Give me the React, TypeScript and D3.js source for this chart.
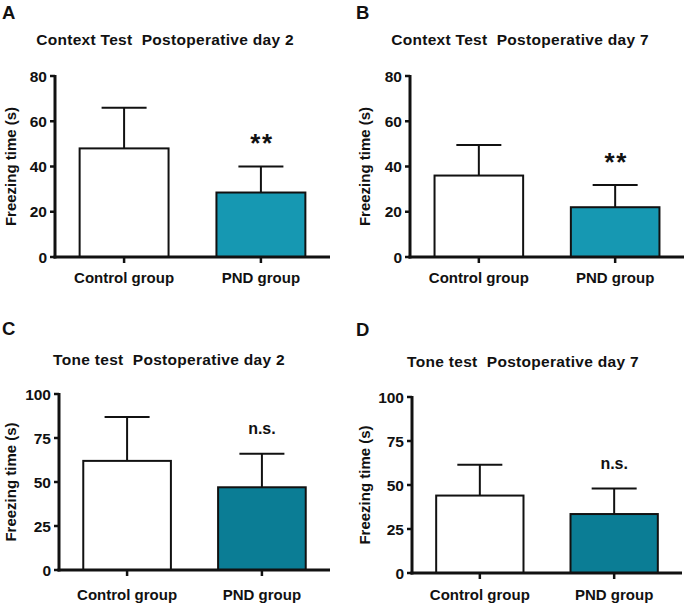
import React from "react";
import * as d3 from "d3";

// Freezing-time results, four panels
const groups = ["Control group", "PND group"];

const contextDay2Means = [48, 28.5];
const contextDay2Errors = [18, 11.5];
const contextDay7Means = [36, 22];
const contextDay7Errors = [13.5, 9.8];
const toneDay2Means = [62, 47];
const toneDay2Errors = [25, 19];
const toneDay7Means = [44, 33.5];
const toneDay7Errors = [17.5, 14.5];

const contextTicks = [0, 20, 40, 60, 80];
const toneTicks = [0, 25, 50, 75, 100];

const panelLetters = ["A", "B", "C", "D"];
const panelTitles = [
  "Context Test  Postoperative day 2",
  "Context Test  Postoperative day 7",
  "Tone test  Postoperative day 2",
  "Tone test  Postoperative day 7",
];
const significance = ["**", "**", "n.s.", "n.s."];

const FONT = "Liberation Sans, Arial, Helvetica, sans-serif";

type PanelProps = {
  letter: string;
  title: string;
  means: number[];
  errors: number[];
  ticks: number[];
  sig: string;
  fill: string;
  // layout
  axisX: number;
  xEnd: number;
  yTop: number;
  yBottom: number;
  letterX: number;
  letterY: number;
  titleX: number;
  titleY: number;
  yLabelX: number;
  xLabelY: number;
};

function Panel(p: PanelProps) {
  const yMax = p.ticks[p.ticks.length - 1];
  const y = d3.scaleLinear().domain([0, yMax]).range([p.yBottom, p.yTop]);
  const x = d3
    .scaleBand<string>()
    .domain(groups)
    .range([p.axisX, p.xEnd])
    .paddingInner(0.35)
    .paddingOuter(0.18);
  const bw = x.bandwidth();
  const capHalf = 22.5;
  const yMid = (p.yTop + p.yBottom) / 2;
  const isStars = p.sig === "**";

  return (
    <g>
      <text x={p.letterX} y={p.letterY} fontFamily={FONT} fontWeight="bold" fontSize={18.5} fill="#111">
        {p.letter}
      </text>
      <text
        x={p.titleX}
        y={p.titleY}
        textAnchor="middle"
        fontFamily={FONT}
        fontWeight="bold"
        fontSize={15.5}
        letterSpacing={0.3}
        style={{ whiteSpace: "pre" }}
        fill="#111"
      >
        {p.title}
      </text>
      <text
        transform={`translate(${p.yLabelX},${yMid}) rotate(-90)`}
        textAnchor="middle"
        dominantBaseline="central"
        fontFamily={FONT}
        fontWeight="bold"
        fontSize={15}
        fill="#111"
      >
        Freezing time (s)
      </text>

      {/* bars with upward error bars */}
      {groups.map((g, i) => {
        const x0 = x(g)!;
        const cx = x0 + bw / 2;
        const top = y(p.means[i]);
        const errTop = y(p.means[i] + p.errors[i]);
        return (
          <g key={g}>
            <line x1={cx} x2={cx} y1={top} y2={errTop} stroke="#111" strokeWidth={2} />
            <line x1={cx - capHalf} x2={cx + capHalf} y1={errTop} y2={errTop} stroke="#111" strokeWidth={2} />
            <rect
              x={x0}
              y={top}
              width={bw}
              height={p.yBottom - top}
              fill={i === 0 ? "#ffffff" : p.fill}
              stroke="#111"
              strokeWidth={2}
            />
            {i === 1 && (
              <text
                x={cx + (isStars ? 1 : 0)}
                y={isStars ? errTop - 28 + 13.5 : errTop - 25 + 5}
                textAnchor="middle"
                fontFamily={FONT}
                fontWeight="bold"
                fontSize={isStars ? 26 : 16}
                letterSpacing={isStars ? 1.5 : 0}
                fill="#111"
              >
                {p.sig}
              </text>
            )}
            {/* x tick */}
            <line x1={cx} x2={cx} y1={p.yBottom} y2={p.yBottom + 6} stroke="#111" strokeWidth={2.5} />
            <text x={cx} y={p.xLabelY} textAnchor="middle" fontFamily={FONT} fontWeight="bold" fontSize={15} fill="#111">
              {g}
            </text>
          </g>
        );
      })}

      {/* y axis */}
      <line x1={p.axisX} x2={p.axisX} y1={p.yTop - 1} y2={p.yBottom + 1.5} stroke="#111" strokeWidth={3} />
      {p.ticks.map((t) => (
        <g key={t}>
          <line x1={p.axisX - 5} x2={p.axisX} y1={y(t)} y2={y(t)} stroke="#111" strokeWidth={2.5} />
          <text
            x={p.axisX - 8}
            y={y(t)}
            textAnchor="end"
            dominantBaseline="central"
            fontFamily={FONT}
            fontWeight="bold"
            fontSize={15.5}
            fill="#111"
          >
            {t}
          </text>
        </g>
      ))}
      {/* x axis */}
      <line x1={p.axisX - 1.5} x2={p.xEnd} y1={p.yBottom} y2={p.yBottom} stroke="#111" strokeWidth={3} />
    </g>
  );
}

export default function App() {
  return (
    <svg
      width={688}
      height={608}
      viewBox="0 0 688 608"
      style={{ position: "absolute", left: 0, top: 0, background: "#fff" }}
    >
      <rect width={688} height={608} fill="#fff" />
      <Panel
        letter={panelLetters[0]}
        title={panelTitles[0]}
        means={contextDay2Means}
        errors={contextDay2Errors}
        ticks={contextTicks}
        sig={significance[0]}
        fill="#1698b2"
        axisX={55}
        xEnd={330}
        yTop={76}
        yBottom={257}
        letterX={2}
        letterY={19}
        titleX={165}
        titleY={45}
        yLabelX={10}
        xLabelY={283}
      />
      <Panel
        letter={panelLetters[1]}
        title={panelTitles[1]}
        means={contextDay7Means}
        errors={contextDay7Errors}
        ticks={contextTicks}
        sig={significance[1]}
        fill="#1698b2"
        axisX={410}
        xEnd={684}
        yTop={76}
        yBottom={257}
        letterX={356}
        letterY={19}
        titleX={520}
        titleY={45}
        yLabelX={364}
        xLabelY={283}
      />
      <Panel
        letter={panelLetters[2]}
        title={panelTitles[2]}
        means={toneDay2Means}
        errors={toneDay2Errors}
        ticks={toneTicks}
        sig={significance[2]}
        fill="#0b7d95"
        axisX={59}
        xEnd={330}
        yTop={394}
        yBottom={570}
        letterX={2}
        letterY={335}
        titleX={169}
        titleY={365}
        yLabelX={10}
        xLabelY={600}
      />
      <Panel
        letter={panelLetters[3]}
        title={panelTitles[3]}
        means={toneDay7Means}
        errors={toneDay7Errors}
        ticks={toneTicks}
        sig={significance[3]}
        fill="#0b7d95"
        axisX={412}
        xEnd={682}
        yTop={397}
        yBottom={573}
        letterX={356}
        letterY={336}
        titleX={523}
        titleY={367}
        yLabelX={364}
        xLabelY={600}
      />
    </svg>
  );
}
